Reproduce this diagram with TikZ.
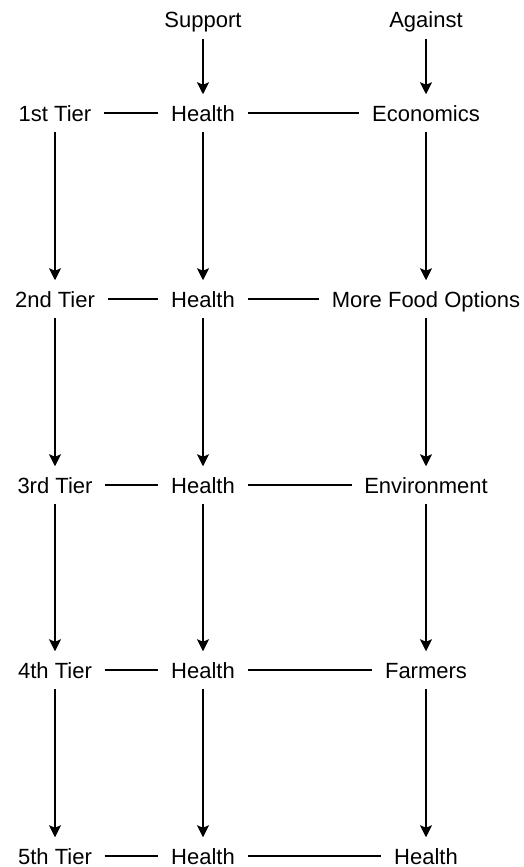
\documentclass[tikz,border=0pt]{standalone}
\usepackage{fontspec}
\setmainfont{Liberation Sans}
\usetikzlibrary{arrows.meta}

\begin{document}
\begin{tikzpicture}[x=1pt,y=-1pt,line width=1.5pt,
  >={Stealth[length=12pt,width=12pt,inset=2.5pt]},
  every node/.style={font=\fontsize{22}{26}\selectfont,text height=16pt,text depth=0pt,inner xsep=12pt,inner ysep=10pt}]
  \useasboundingbox (0,0) rectangle (523,867);

  \node (sup) at (203,20) {Support};
  \node (ag) at (426,20) {Against};

  \node (t1) at (55,113) {1st Tier};
  \node (s1) at (203,113) {Health};
  \node (a1) at (426,113) {Economics};

  \node (t2) at (55,299) {2nd Tier};
  \node (s2) at (203,299) {Health};
  \node (a2) at (426,299) {More Food Options};

  \node (t3) at (55,485) {3rd Tier};
  \node (s3) at (203,485) {Health};
  \node (a3) at (426,485) {Environment};

  \node (t4) at (55,670) {4th Tier};
  \node (s4) at (203,670) {Health};
  \node (a4) at (426,670) {Farmers};

  \node (t5) at (55,856) {5th Tier};
  \node (s5) at (203,856) {Health};
  \node (a5) at (426,856) {Health};

  % tiers
  \draw (t1) -- (s1) -- (a1);
  \draw (t2) -- (s2) -- (a2);
  \draw (t3) -- (s3) -- (a3);
  \draw (t4) -- (s4) -- (a4);
  \draw (t5) -- (s5) -- (a5);

  \draw [->] (sup) -- (s1);
  \draw [->] (ag) -- (a1);

  \draw [->] (t1) -- (t2);
  \draw [->] (t2) -- (t3);
  \draw [->] (t3) -- (t4);
  \draw [->] (t4) -- (t5);

  \draw [->] (s1) -- (s2);
  \draw [->] (s2) -- (s3);
  \draw [->] (s3) -- (s4);
  \draw [->] (s4) -- (s5);

  \draw [->] (a1) -- (a2);
  \draw [->] (a2) -- (a3);
  \draw [->] (a3) -- (a4);
  \draw [->] (a4) -- (a5);
\end{tikzpicture}
\end{document}
